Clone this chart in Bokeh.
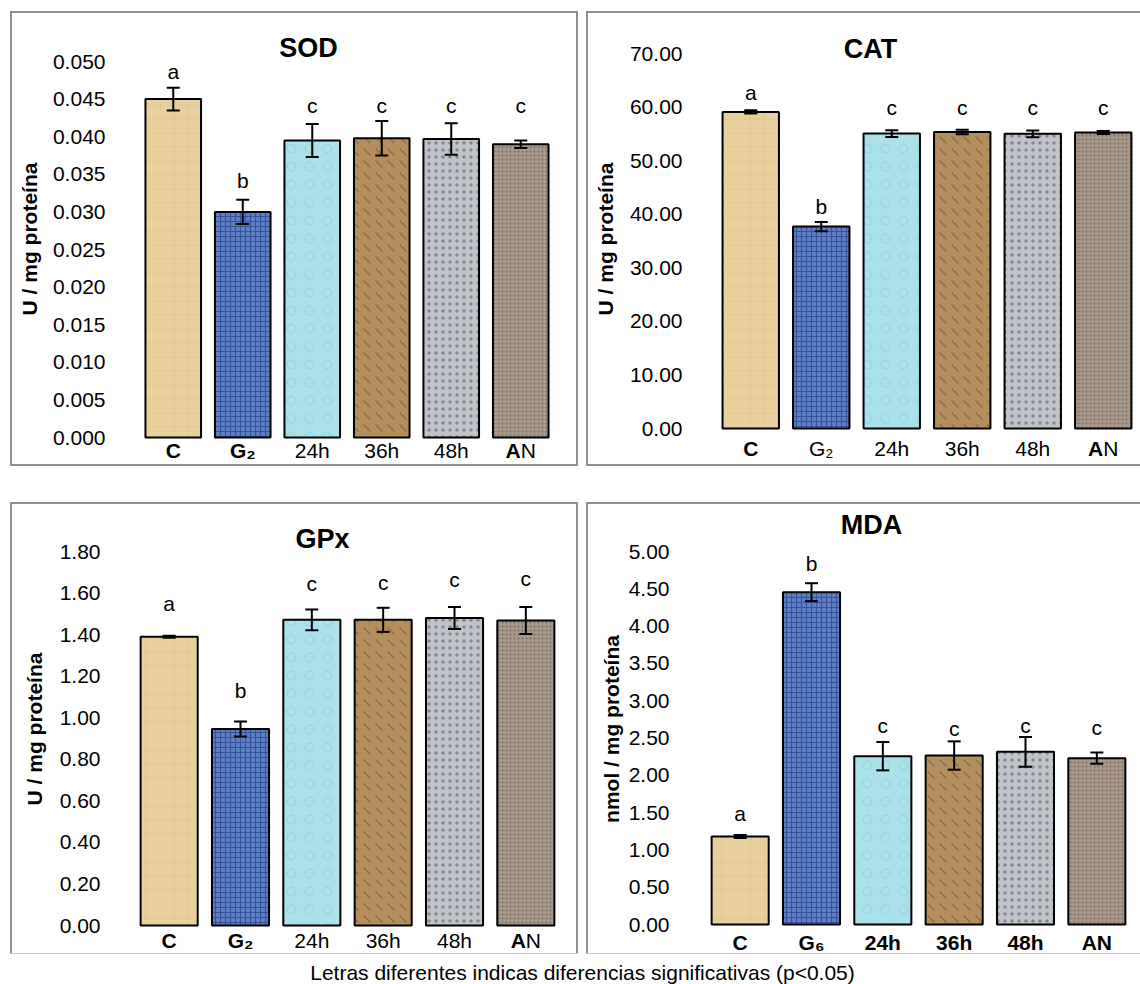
import numpy as np
from bokeh.plotting import figure
from bokeh.models import ColumnDataSource, LabelSet, Label, FixedTicker, NumeralTickFormatter, Range1d
from bokeh.layouts import row, column
from bokeh.embed import file_html
from bokeh.resources import INLINE
from bokeh.core.properties import field, value

FONT = "Liberation Sans"

# ---------------- data ----------------
groups = ["C", "G", "24h", "36h", "48h", "AN"]

sod_labels = ["C", "G₂", "24h", "36h", "48h", "AN"]
sod_mean = [0.0450, 0.0300, 0.0395, 0.0398, 0.0397, 0.0390]
sod_err = [0.0015, 0.0016, 0.0022, 0.0023, 0.0021, 0.0005]
sod_letters = ["a", "b", "c", "c", "c", "c"]
sod_letter_y = [0.0487, 0.0342, 0.0441, 0.0441, 0.0441, 0.0441]
sod_ticks = [0.0, 0.005, 0.010, 0.015, 0.020, 0.025, 0.030, 0.035, 0.040, 0.045, 0.050]

cat_labels = ["C", "G₂", "24h", "36h", "48h", "AN"]
cat_mean = [59.1, 37.7, 55.05, 55.35, 55.0, 55.25]
cat_err = [0.3, 0.87, 0.62, 0.44, 0.65, 0.28]
cat_letters = ["a", "b", "c", "c", "c", "c"]
cat_letter_y = [62.8, 41.5, 60.0, 60.0, 60.0, 60.0]
cat_ticks = [0, 10, 20, 30, 40, 50, 60, 70]

gpx_labels = ["C", "G₂", "24h", "36h", "48h", "AN"]
gpx_mean = [1.390, 0.946, 1.471, 1.471, 1.480, 1.468]
gpx_err = [0.005, 0.036, 0.050, 0.058, 0.053, 0.065]
gpx_letters = ["a", "b", "c", "c", "c", "c"]
gpx_letter_y = [1.548, 1.131, 1.644, 1.652, 1.663, 1.668]
gpx_ticks = [0.0, 0.2, 0.4, 0.6, 0.8, 1.0, 1.2, 1.4, 1.6, 1.8]

mda_labels = ["C", "G₆", "24h", "36h", "48h", "AN"]
mda_mean = [1.18, 4.455, 2.256, 2.265, 2.315, 2.230]
mda_err = [0.02, 0.12, 0.19, 0.19, 0.20, 0.076]
mda_letters = ["a", "b", "c", "c", "c", "c"]
mda_letter_y = [1.483, 4.84, 2.667, 2.63, 2.667, 2.636]
mda_ticks = [0.0, 0.5, 1.0, 1.5, 2.0, 2.5, 3.0, 3.5, 4.0, 4.5, 5.0]

footer = "Letras diferentes indicas diferencias significativas (p<0.05)"

# ---------------- styles ----------------
FILLS = ["#e8d09e", "#5f80c6", "#abe2ea", "#b58e5e", "#c0c3ca", "#a8998b"]
HPAT = ["cross", "cross", "ring", "left_diagonal_dash", "dot", "dot"]
HCOL = ["#d4b982", "#2b4888", "#85ccd9", "#7a5632", "#73777f", "#6f6154"]
HSCALE = [14, 5, 18, 12, 7, 4]
HWEIGHT = [1.0, 1.2, 1.0, 1.5, 1.0, 1.0]
HALPHA = [0.4, 0.8, 0.7, 0.6, 0.8, 0.8]


def panel(title, labels, bold_n, mean, err, letters, letter_y, ticks, fmt, ylabel,
          W, H, mb, frame_h, tick_standoff, lab_standoff, title_xy, gap, margin):
    left, right, top, bottom = mb
    n = len(mean)
    ymax = ticks[-1]
    per_px = ymax / frame_h
    # the frame spans the whole height so that titles and labels are not clipped;
    # 0 .. ymax still maps onto the same pixels as a frame of height frame_h
    y_rng = Range1d(-bottom * per_px, ymax + top * per_px)
    p = figure(width=W, height=H, output_backend="svg", toolbar_location=None,
               x_range=Range1d(0, n), y_range=y_rng,
               min_border_left=left, min_border_right=right,
               min_border_top=0, min_border_bottom=0,
               background_fill_color="white", border_fill_color="white",
               outline_line_color=None, margin=margin,
               styles={"outline": "2px solid #8e8e8e"})
    p.xgrid.visible = False
    p.ygrid.visible = False
    p.xaxis.visible = False
    ya = p.yaxis[0]
    ya.ticker = FixedTicker(ticks=ticks)
    ya.formatter = NumeralTickFormatter(format=fmt)
    ya.axis_line_color = None
    ya.major_tick_line_color = None
    ya.minor_tick_line_color = None
    ya.major_tick_out = 0
    ya.major_tick_in = 0
    ya.major_label_standoff = tick_standoff
    ya.major_label_text_font = FONT
    ya.major_label_text_font_size = "21px"
    ya.major_label_text_color = "black"
    ya.axis_label = ylabel
    ya.axis_label_text_font = FONT
    ya.axis_label_text_font_size = "21px"
    ya.axis_label_text_font_style = "bold"
    ya.axis_label_text_color = "black"
    ya.axis_label_standoff = lab_standoff

    xs = np.arange(n) + 0.5
    m = np.array(mean, dtype=float)
    e = np.array(err, dtype=float)
    src = ColumnDataSource(dict(x=xs, top=m, lo=m - e, hi=m + e, fill=FILLS, hpat=HPAT,
                                hcol=HCOL, hscale=HSCALE, hweight=HWEIGHT, halpha=HALPHA,
                                letter=letters, ly=letter_y))
    p.vbar(x="x", top="top", bottom=0, width=0.8, source=src,
           fill_color=field("fill"), line_color="black", line_width=2,
           hatch_pattern=field("hpat"), hatch_color=field("hcol"),
           hatch_scale=field("hscale"), hatch_weight=field("hweight"),
           hatch_alpha=field("halpha"))
    p.segment(x0="x", y0="lo", x1="x", y1="hi", source=src, line_color="black", line_width=2)
    p.scatter(x="x", y="hi", source=src, marker="dash", size=13, line_color="black", line_width=2)
    p.scatter(x="x", y="lo", source=src, marker="dash", size=13, line_color="black", line_width=2)

    p.add_layout(Label(x=title_xy[0], y=title_xy[1], x_units="canvas", y_units="canvas",
                       text=title, text_align="center", text_baseline="middle",
                       text_font=FONT, text_font_size="27px", text_font_style="bold",
                       text_color="black"))

    p.add_layout(LabelSet(x="x", y="ly", text="letter", source=src, text_align="center",
                          text_baseline="middle", text_font=value(FONT),
                          text_font_size=value("21px"), text_color="black"))

    # category labels below bars (bold / normal parts)
    segs = {("bold", "center"): ([], []), ("bold", "right"): ([], []),
            ("normal", "center"): ([], []), ("normal", "left"): ([], [])}
    for xi, lab, k in zip(xs, labels, bold_n):
        b, r = lab[:k], lab[k:]
        if b and r:
            segs[("bold", "right")][0].append(xi); segs[("bold", "right")][1].append(b)
            segs[("normal", "left")][0].append(xi); segs[("normal", "left")][1].append(r)
        elif b:
            segs[("bold", "center")][0].append(xi); segs[("bold", "center")][1].append(b)
        else:
            segs[("normal", "center")][0].append(xi); segs[("normal", "center")][1].append(r)
    for (style, align), (sx, st) in segs.items():
        if not sx:
            continue
        s = ColumnDataSource(dict(x=sx, y=[0] * len(sx), t=st))
        p.add_layout(LabelSet(x="x", y="y", text="t", source=s, y_offset=-gap,
                              text_align=value(align), text_baseline=value("middle"),
                              text_font=value(FONT), text_font_size=value("21px"),
                              text_font_style=value(style), text_color="black"))
    return p


sod = panel("SOD", sod_labels, [1, 2, 0, 0, 0, 1], sod_mean, sod_err, sod_letters, sod_letter_y,
            sod_ticks, "0.000", "U / mg proteína", 564, 451, (126, 21, 48, 27), 376, 33, 9,
            (296, 34), 13, (13, 0, 0, 12))
cat = panel("CAT", cat_labels, [1, 0, 0, 0, 0, 1], cat_mean, cat_err, cat_letters, cat_letter_y,
            cat_ticks, "0.00", "U / mg proteína", 552, 451, (127, 2, 40, 36), 375, 33, 10,
            (282, 35), 20, (13, 0, 0, 12))
gpx = panel("GPx", gpx_labels, [1, 2, 0, 0, 0, 1], gpx_mean, gpx_err, gpx_letters, gpx_letter_y,
            gpx_ticks, "0.00", "U / mg proteína", 564, 449, (121, 15, 47, 28), 374, 33, 11,
            (310, 34), 15, (40, 0, 0, 12))
mda = panel("MDA", mda_labels, [1, 2, 3, 3, 3, 2], mda_mean, mda_err, mda_letters, mda_letter_y,
            mda_ticks, "0.00", "nmol / mg proteína", 552, 449, (116, 8, 47, 29), 373, 35, 3,
            (283, 20), 18, (40, 0, 0, 12))

foot = figure(width=1140, height=31, output_backend="svg", toolbar_location=None,
              x_range=Range1d(0, 1), y_range=Range1d(0, 1), min_border=0,
              x_axis_location=None, y_axis_location=None, outline_line_color=None)
foot.xgrid.visible = False
foot.ygrid.visible = False
foot.add_layout(Label(x=582, y=19, x_units="canvas", y_units="canvas", text=footer,
                      text_align="center", text_baseline="middle", text_font=FONT,
                      text_font_size="21px", text_color="black"))

layout = column(row(sod, cat), row(gpx, mda), foot)
open("out.html", "w").write(file_html(layout, INLINE))
